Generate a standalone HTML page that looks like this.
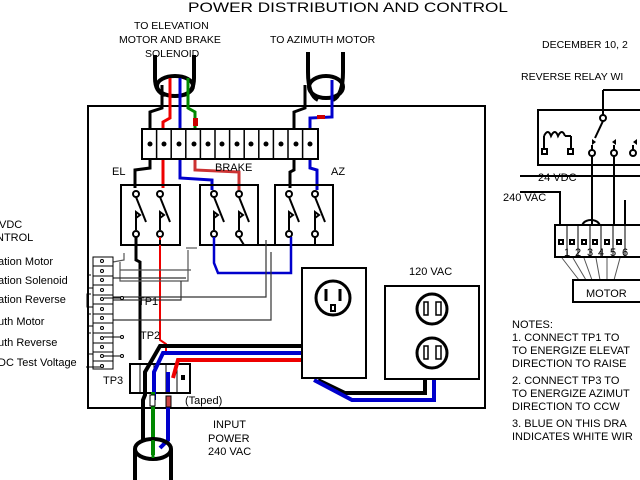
<!DOCTYPE html>
<html><head><meta charset="utf-8"><style>
html,body{margin:0;padding:0;background:#fff;width:640px;height:480px;overflow:hidden}
svg{display:block}
text{font-family:"Liberation Sans",sans-serif;fill:#000}
</style></head><body>
<svg width="640" height="480" viewBox="0 0 640 480" xmlns="http://www.w3.org/2000/svg">
<g font-size="14"><text x="188" y="12" textLength="320" lengthAdjust="spacingAndGlyphs">POWER DISTRIBUTION AND CONTROL</text></g>
<g font-size="10.5">
<text x="134" y="29">TO ELEVATION</text>
<text x="119" y="43">MOTOR AND BRAKE</text>
<text x="145" y="57">SOLENOID</text>
<text x="270" y="43">TO AZIMUTH MOTOR</text>
<text x="542" y="48">DECEMBER 10, 2</text>
<text x="521" y="80">REVERSE RELAY WI</text>
</g>
<!-- main box -->
<rect x="88" y="106" width="397" height="302" fill="none" stroke="#000" stroke-width="2"/>
<!-- elevation cable -->
<g fill="none" stroke="#000" stroke-width="4">
<path d="M155 55 V78 Q155 92 165 95 M194 55 V78 Q194 92 184 95"/>
<ellipse cx="175" cy="86" rx="18" ry="10"/>
<path d="M308 52 V72 M343 52 V72"/>
<ellipse cx="326" cy="87" rx="17" ry="11"/>
<path d="M308 72 Q308 95 318 100 M343 72 Q343 95 333 100"/>
</g>
<!-- wires top -->
<g fill="none" stroke-width="3">
<path d="M162 85 V108 L150 112 V140 M150 160 V168 L135 170 V188" stroke="#000"/>
<path d="M170 78 V118 L163 122 V140 M163 160 V188" stroke="#e00"/>
<path d="M180 78 V140 M180 160 V178 L212 180 V190" stroke="#00c"/>
<path d="M188 78 V108 L195 112 V140" stroke="#080"/>
<path d="M195 160 V170 L239 172 V190" stroke="#c33"/>
<path d="M305 85 V108 L294 112 V140 M294 160 V170 L290 172 V188" stroke="#000"/>
<path d="M332 80 V117 L310 118 V140 M310 160 V168 L317 170 V190" stroke="#00c"/>
</g>
<rect x="193" y="118" width="5" height="8" fill="#c00"/><rect x="317" y="115" width="8" height="4" fill="#c00"/>
<!-- terminal strip -->
<rect x="142" y="129" width="176" height="30" fill="#fff" stroke="#000" stroke-width="2"/>
<g stroke="#000" stroke-width="1.5">
<path d="M156.6 129V159M171.2 129V159M185.8 129V159M200.4 129V159M215 129V159M229.6 129V159M244.2 129V159M258.8 129V159M273.4 129V159M288 129V159M302.6 129V159"/>
</g>
<g fill="#000">
<circle cx="150" cy="144" r="2.5"/><circle cx="164" cy="144" r="2.5"/><circle cx="179" cy="144" r="2.5"/><circle cx="194" cy="144" r="2.5"/><circle cx="208" cy="144" r="2.5"/><circle cx="222" cy="144" r="2.5"/><circle cx="237" cy="144" r="2.5"/><circle cx="251" cy="144" r="2.5"/><circle cx="266" cy="144" r="2.5"/><circle cx="281" cy="144" r="2.5"/><circle cx="296" cy="144" r="2.5"/><circle cx="310" cy="144" r="2.5"/>
</g>
<g font-size="11"><text x="112" y="175">EL</text><text x="215" y="171">BRAKE</text><text x="331" y="175">AZ</text></g>
<!-- relays -->
<g fill="none" stroke="#000" stroke-width="2">
<rect x="121" y="185" width="59" height="60"/>
<rect x="200" y="185" width="58" height="60"/>
<rect x="275" y="185" width="58" height="60"/>
</g>
<g fill="#fff" stroke="#000" stroke-width="2">
<circle cx="136" cy="194" r="3"/><circle cx="160" cy="194" r="3"/><circle cx="136" cy="234" r="3"/><circle cx="160" cy="234" r="3"/>
<circle cx="214" cy="194" r="3"/><circle cx="239" cy="194" r="3"/><circle cx="214" cy="234" r="3"/><circle cx="239" cy="234" r="3"/>
<circle cx="289" cy="194" r="3"/><circle cx="315" cy="194" r="3"/><circle cx="289" cy="234" r="3"/><circle cx="315" cy="234" r="3"/>
</g>
<g fill="none" stroke="#000" stroke-width="2">
<path d="M136 197 L146 222 M160 197 L170 222 M214 197 L224 222 M239 197 L249 222 M289 197 L299 222 M315 197 L325 222"/>
<path d="M136 230 V212 l4 3 -4 3 M160 230 V212 l4 3 -4 3 M214 230 V212 l4 3 -4 3 M239 230 V212 l4 3 -4 3 M289 230 V212 l4 3 -4 3 M315 230 V212 l4 3 -4 3"/>
</g>
<!-- wiring below relays -->
<g fill="none" stroke-width="2">
<path d="M136 237 V260 L140 262 V360" stroke="#000" stroke-width="3"/>
<path d="M160 237 V340 L166 344 V355" stroke="#e00" stroke-width="2"/>
<path d="M239 237 L244 245 L280 245 M160 245 V240" stroke="#000"/>
<path d="M214 237 V263 L218 273 H291 V237" stroke="#00c" stroke-width="2.5"/>
<path d="M315 237 V245" stroke="#000"/>
<path d="M124 253 L124 260 L113 262 M120 262 V281 H188 V250 M120 270 H191" stroke="#555" stroke-width="1.2"/>
<path d="M113 278 H186 M113 297 H266 V240 M113 320 H271 V252 M113 300 H181 V281" stroke="#333" stroke-width="1.2"/>
<path d="M104 258 H113 M197 248 H186" stroke="#333" stroke-width="1"/>
</g>
<!-- left terminal strip -->
<rect x="93" y="257" width="20" height="112" fill="#fff" stroke="#000" stroke-width="1"/>
<g stroke="#000" stroke-width="1" fill="none">
<path d="M93 266H113M93 276H113M93 285H113M93 295H113M93 304H113M93 314H113M93 323H113M93 333H113M93 343H113M93 352H113M93 361H113"/>
<path d="M91 275 H88 V288 H93 M91 294 H87 V307 H93 M91 314 H88 V326 H93 M91 333 H88 V354 H93"/>
<path d="M104 298 H122 M104 337 H122 M104 356 H122 M104 367 H86"/>
</g>
<g fill="#fff" stroke="#000" stroke-width="1">
<circle cx="102" cy="261" r="1.5"/><circle cx="102" cy="271" r="1.5"/><circle cx="102" cy="280" r="1.5"/><circle cx="102" cy="290" r="1.5"/><circle cx="102" cy="299" r="1.5"/><circle cx="102" cy="309" r="1.5"/><circle cx="102" cy="318" r="1.5"/><circle cx="102" cy="328" r="1.5"/><circle cx="102" cy="338" r="1.5"/><circle cx="102" cy="347" r="1.5"/><circle cx="102" cy="356" r="1.5"/><circle cx="102" cy="366" r="1.5"/>
<circle cx="122" cy="298" r="1.5"/><circle cx="122" cy="337" r="1.5"/><circle cx="122" cy="356" r="1.5"/>
</g>
<g font-size="11">
<text x="-1" y="228">VDC</text><text x="-4" y="241">NTROL</text>
<text x="-2" y="265">ation Motor</text>
<text x="-2" y="284">ation Solenoid</text>
<text x="-2" y="303">ation Reverse</text>
<text x="-2" y="325">uth Motor</text>
<text x="-2" y="346">uth Reverse</text>
<text x="-2" y="366">DC Test Voltage</text>
<text x="138" y="305">TP1</text><text x="140" y="339">TP2</text><text x="103" y="384">TP3</text>
<text x="185" y="404">(Taped)</text>
<text x="213" y="428">INPUT</text><text x="208" y="442">POWER</text><text x="208" y="455">240 VAC</text>
<text x="409" y="275">120 VAC</text><text x="312" y="344">240 VAC</text>
</g>
<!-- TP3 strip -->
<rect x="130" y="364" width="60" height="29" fill="#fff" stroke="#000" stroke-width="2"/>
<path d="M140 364V393M154 364V393M166 364V393M177 364V393" stroke="#000"/>
<rect x="181" y="375" width="4" height="5" fill="#000"/>
<!-- power wires -->
<g fill="none" stroke-width="4">
<path d="M302 346 H160 L145 372 V395 L143 400 V440" stroke="#000"/>
<path d="M302 353 H163 L154 372 V400" stroke="#00c"/>
<path d="M302 360 H178 L173 378" stroke="#e00"/>
<path d="M168 372 V392 M168 400 V440 L160 448" stroke="#00c"/>
<path d="M153 392 V455" stroke="#080"/>
<path d="M318 380 L345 393 H425 V378" stroke="#000"/>
<path d="M314 380 L352 400 H434 V378" stroke="#00c"/>
</g>
<rect x="150" y="395" width="5" height="11" fill="#fff" stroke="#000"/>
<rect x="166" y="396" width="5" height="11" fill="#c44" stroke="#000"/>
<!-- input cable -->
<g fill="none" stroke="#000" stroke-width="4">
<ellipse cx="153" cy="449" rx="18" ry="10"/>
<path d="M135 449 V480 M171 449 V480"/>
</g>
<path d="M153 440 V458" stroke="#080" stroke-width="3"/>
<!-- outlets -->
<rect x="302" y="268" width="64" height="110" fill="#fff" stroke="#000" stroke-width="2"/>
<circle cx="333" cy="298" r="17" fill="none" stroke="#000" stroke-width="3"/>
<path d="M326 289v12M340 289v12" stroke="#000" stroke-width="3"/><rect x="331" y="305" width="4" height="6" fill="none" stroke="#000" stroke-width="2"/>
<rect x="385" y="286" width="94" height="93" fill="#fff" stroke="#000" stroke-width="2"/>
<circle cx="432" cy="309" r="15" fill="none" stroke="#000" stroke-width="3"/>
<circle cx="432" cy="353" r="15" fill="none" stroke="#000" stroke-width="3"/>
<g fill="none" stroke="#000" stroke-width="1.5"><rect x="424" y="302" width="4" height="13"/><rect x="436" y="302" width="5" height="13"/><rect x="424" y="346" width="4" height="13"/><rect x="436" y="346" width="5" height="13"/></g>
<!-- right panel -->
<g fill="none" stroke="#000" stroke-width="2">
<rect x="538" y="110" width="110" height="55"/>
<path d="M603 90 H645 M603 90 V118 M544 136 V149 M571 136 V149 M544 136 q4 -8 7 0 q4 -8 7 0 q4 -8 7 0 M565 136 H571"/>
<path d="M603 121 L595 138 M592 145 V153 M614 145 V153 M633 145 V153"/>
<path d="M520 176 H640 M520 192 H560 V230 M592 153 V225 M614 153 V225 M592 175 L592 181 M614 175 V181"/>
<path d="M581 232 q0 -12 10 -12 q10 0 10 12"/>
<path d="M625 200 V225 H630"/>
</g>
<g fill="#fff" stroke="#000" stroke-width="2">
<circle cx="603" cy="118" r="3"/><circle cx="592" cy="153" r="3"/><circle cx="614" cy="153" r="3"/><circle cx="633" cy="153" r="3"/>
<rect x="542" y="149" width="5" height="5"/><rect x="568" y="149" width="5" height="5"/>
</g>
<path d="M596 142 l-4 -3 0 6z M612 142 l4 -3 0 6z M633 142 l4 -3 0 6z" fill="#000"/>
<g font-size="11"><text x="538" y="181">24 VDC</text><text x="503" y="201">240 VAC</text></g>
<rect x="555" y="225" width="90" height="32" fill="#fff" stroke="#000" stroke-width="2"/>
<path d="M567 225V257M578 225V257M590 225V257M601 225V257M613 225V257M625 225V257" stroke="#000"/>
<g fill="#000" font-size="11"><text x="564" y="256">1</text><text x="575" y="256">2</text><text x="587" y="256">3</text><text x="598" y="256">4</text><text x="610" y="256">5</text><text x="622" y="256">6</text></g>
<g fill="none" stroke="#000" stroke-width="2"><rect x="559" y="240" width="4" height="4"/><rect x="570" y="240" width="4" height="4"/><rect x="582" y="240" width="4" height="4"/><rect x="593" y="240" width="4" height="4"/><rect x="605" y="240" width="4" height="4"/><rect x="617" y="240" width="4" height="4"/></g>
<path d="M562 258 L579 280 M573 258 L586 280 M584 258 L592 280 M596 258 L600 280 M607 258 L607 280 M620 258 L614 280" stroke="#555"/>
<rect x="573" y="280" width="70" height="22" fill="#fff" stroke="#000" stroke-width="2"/>
<text x="586" y="297" font-size="11">MOTOR</text>
<g font-size="11">
<text x="512" y="328">NOTES:</text>
<text x="512" y="341">1.  CONNECT TP1 TO</text>
<text x="512" y="354">TO ENERGIZE ELEVAT</text>
<text x="512" y="367">DIRECTION TO RAISE</text>
<text x="512" y="384">2.  CONNECT TP3 TO</text>
<text x="512" y="397">TO ENERGIZE AZIMUT</text>
<text x="512" y="410">DIRECTION TO CCW</text>
<text x="512" y="427">3. BLUE ON THIS DRA</text>
<text x="512" y="440">INDICATES WHITE WIR</text>
</g>
</svg>
</body></html>
